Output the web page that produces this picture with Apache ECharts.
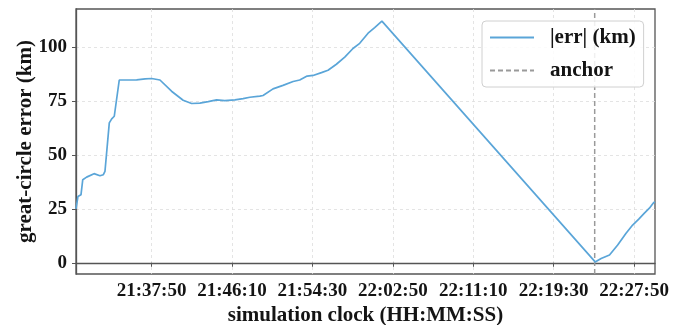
<!DOCTYPE html>
<html>
<head>
<meta charset="utf-8">
<script src="https://cdn.jsdelivr.net/npm/echarts@6/dist/echarts.min.js"></script>
<style>
  html, body { margin: 0; padding: 0; background: #ffffff; }
  #chart { width: 696px; height: 325px; }
</style>
</head>
<body>
<div id="chart"></div>
<script>
// Great-circle error of the simulated track, sampled on the simulation clock
const clockTimes = [
  '21:30:00', '21:30:12', '21:30:31', '21:30:42', '21:31:06', '21:31:52', '21:32:29',
  '21:32:50', '21:33:00', '21:33:27', '21:33:42', '21:33:58', '21:34:29', '21:36:17',
  '21:37:10', '21:37:50', '21:38:42', '21:39:54', '21:41:06', '21:41:59', '21:42:50',
  '21:43:42', '21:44:34', '21:45:25', '21:46:28', '21:47:19', '21:48:01', '21:49:03',
  '21:49:23', '21:50:25', '21:51:27', '21:52:30', '21:53:11', '21:53:57', '21:54:34',
  '21:55:26', '21:56:07', '21:56:59', '21:57:51', '21:58:42', '21:59:24', '22:00:16',
  '22:00:57', '22:01:42', '22:23:48', '22:24:25', '22:25:17', '22:26:08', '22:27:00',
  '22:27:41', '22:28:19', '22:28:54', '22:29:25', '22:29:52', '22:30:00'
];
const errKm = [
  25.0, 30.7, 31.5, 38.5, 39.7, 41.3, 40.3,
  40.8, 42.3, 64.8, 66.7, 67.9, 84.7, 84.8,
  85.2, 85.4, 84.7, 79.5, 75.3, 73.8, 74.0,
  74.7, 75.5, 75.1, 75.5, 76.1, 76.7, 77.2,
  77.5, 80.6, 82.2, 84.0, 84.7, 86.5, 86.8,
  88.1, 89.2, 92.0, 95.3, 99.3, 101.7, 106.4,
  109.0, 112.0, 0.4, 2.0, 3.6, 8.2, 13.7,
  17.5, 20.2, 23.0, 25.3, 27.9, 28.2
];
const anchorTime = '22:23:45';
const xTickLabels = ['21:37:50', '21:46:10', '21:54:30', '22:02:50', '22:11:10', '22:19:30', '22:27:50'];
const yTicks = [0, 25, 50, 75, 100];
const xLimits = ['21:30:00', '22:30:00'];
const yLimits = [-5.2, 117.6];

function toSec(t) {
  const [h, m, s] = t.split(':').map(Number);
  return h * 3600 + m * 60 + s;
}
function toClock(v) {
  const pad = n => String(n).padStart(2, '0');
  const sec = Math.round(v);
  return pad(Math.floor(sec / 3600)) + ':' + pad(Math.floor(sec % 3600 / 60)) + ':' + pad(sec % 60);
}

const FONT = "'Liberation Serif', 'DejaVu Serif', serif";
const INK = '#141414';
const SPINE = '#555555';
const GRID = '#dedede';

const errSeries = clockTimes.map((t, i) => [toSec(t), errKm[i]]);
const anchorX = toSec(anchorTime);
const anchorSeries = [[anchorX, yLimits[0]], [anchorX, yLimits[1]]];

const chart = echarts.init(document.getElementById('chart'), null, { renderer: 'canvas' });
chart.setOption({
  animation: false,
  backgroundColor: '#ffffff',
  grid: {
    left: 76, top: 9, width: 579, height: 265,
    outerBoundsMode: 'none',
    containLabel: false,
    show: true, borderColor: SPINE, borderWidth: 1.3, backgroundColor: 'transparent'
  },
  xAxis: {
    type: 'value',
    min: toSec(xLimits[0]),
    max: toSec(xLimits[1]),
    name: 'simulation clock (HH:MM:SS)',
    nameLocation: 'middle',
    nameMoveOverlap: false,
    nameGap: 31,
    nameTextStyle: { fontFamily: FONT, fontWeight: 'bold', fontSize: 21, color: INK },
    axisLine: { show: true, lineStyle: { color: SPINE, width: 1.3 } },
    axisTick: {
      show: true, length: 4, inside: false,
      lineStyle: { color: SPINE, width: 1 },
      customValues: xTickLabels.map(toSec)
    },
    axisLabel: {
      customValues: xTickLabels.map(toSec),
      formatter: v => toClock(v),
      margin: 8,
      fontFamily: FONT, fontWeight: 'bold', fontSize: 19, color: INK
    },
    splitLine: { show: true, lineStyle: { color: GRID, width: 0.8, type: [3, 3] } }
  },
  yAxis: {
    type: 'value',
    min: yLimits[0],
    max: yLimits[1],
    name: 'great-circle error (km)',
    nameLocation: 'middle',
    nameMoveOverlap: false,
    nameGap: 40,
    nameTextStyle: { fontFamily: FONT, fontWeight: 'bold', fontSize: 21, color: INK },
    axisLine: { show: true, lineStyle: { color: SPINE, width: 1.3 } },
    axisTick: {
      show: true, length: 4, inside: false,
      lineStyle: { color: SPINE, width: 1 },
      customValues: yTicks
    },
    axisLabel: {
      customValues: yTicks,
      margin: 9,
      fontFamily: FONT, fontWeight: 'bold', fontSize: 19, color: INK
    },
    splitLine: { show: true, lineStyle: { color: GRID, width: 0.8, type: [3, 3] } }
  },
  legend: {
    show: true,
    orient: 'vertical',
    left: 482, top: 21,
    padding: [6, 8, 6, 7],
    itemWidth: 44, itemHeight: 14, itemGap: 12,
    backgroundColor: 'rgba(255,255,255,0.85)',
    borderColor: '#d0d0d0', borderWidth: 1, borderRadius: 4,
    itemStyle: { opacity: 0 },
    textStyle: { fontFamily: FONT, fontWeight: 'bold', fontSize: 21, color: INK, padding: [0, 0, 0, 11] },
    data: ['|err| (km)', 'anchor']
  },
  series: [
    {
      name: '|err| (km)',
      type: 'line',
      data: errSeries,
      showSymbol: false,
      symbol: 'none',
      lineStyle: { color: '#5aa5d8', width: 1.7 },
      itemStyle: { color: '#5aa5d8' },
      z: 3
    },
    {
      name: 'anchor',
      type: 'line',
      data: anchorSeries,
      showSymbol: false,
      symbol: 'none',
      lineStyle: { color: '#9a9a9a', width: 1.5, type: [5, 3] },
      itemStyle: { color: '#9a9a9a' },
      z: 2
    }
  ]
});
</script>
</body>
</html>
